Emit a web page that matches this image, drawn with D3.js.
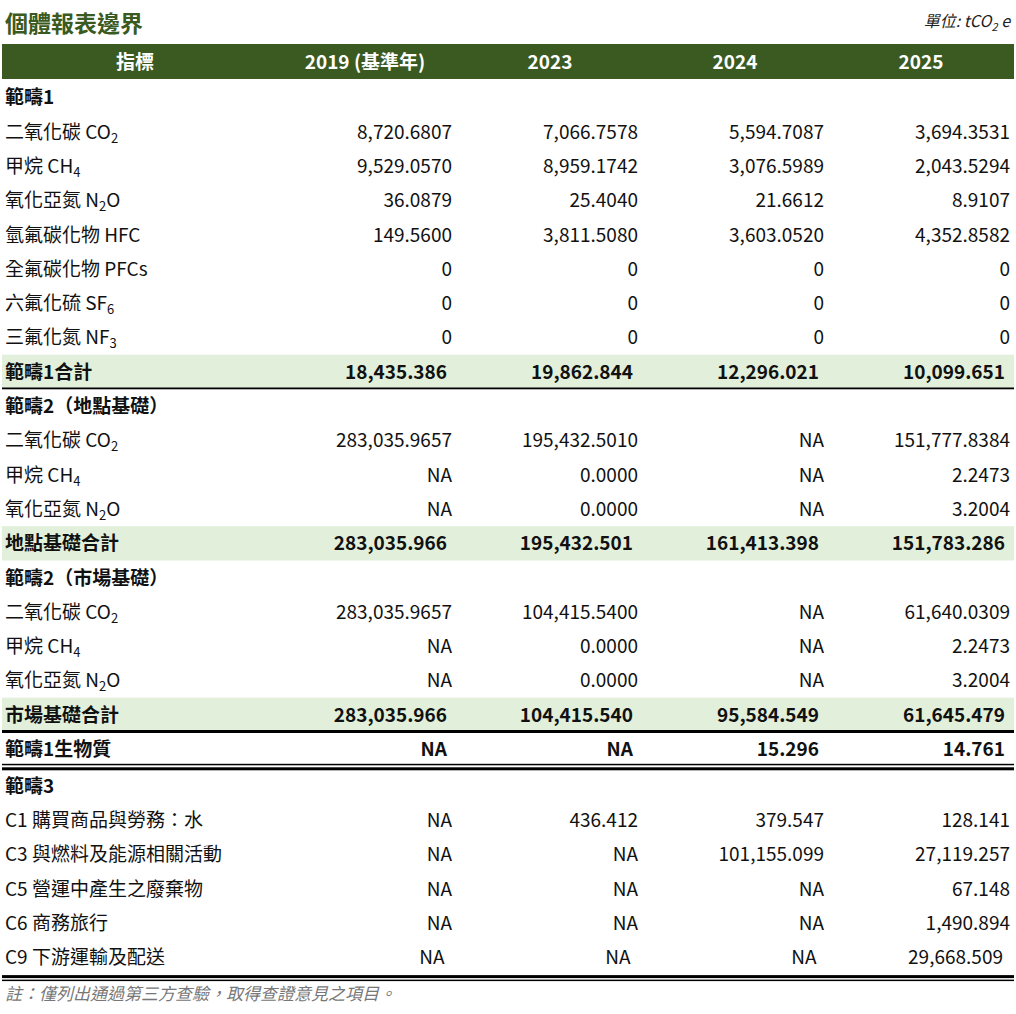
<!DOCTYPE html>
<html><head><meta charset="utf-8">
<script src="https://cdn.jsdelivr.net/npm/d3@7"></script>
<style>body{margin:0;background:#fff}text{font-family:"Noto Sans CJK TC","Noto Sans",sans-serif}</style>
</head><body><svg id="c" width="1016" height="1014"></svg>
<script>
const title = "個體報表邊界";
const columns = ["指標","2019 (基準年)","2023","2024","2025"];
const labels = [
 ["範疇1"],["二氧化碳 CO","2"],["甲烷 CH","4"],["氧化亞氮 N","2","O"],["氫氟碳化物 HFC"],["全氟碳化物 PFCs"],["六氟化硫 SF","6"],["三氟化氮 NF","3"],["範疇1合計"],
 ["範疇2（地點基礎）"],["二氧化碳 CO","2"],["甲烷 CH","4"],["氧化亞氮 N","2","O"],["地點基礎合計"],
 ["範疇2（市場基礎）"],["二氧化碳 CO","2"],["甲烷 CH","4"],["氧化亞氮 N","2","O"],["市場基礎合計"],
 ["範疇1生物質"],
 ["範疇3"],["C1 購買商品與勞務：水"],["C3 與燃料及能源相關活動"],["C5 營運中產生之廢棄物"],["C6 商務旅行"],["C9 下游運輸及配送"]
];
const rowType = ["head","d","d","d","d","d","d","d","total","head","d","d","d","total","head","d","d","d","total","bold","head","d","d","d","d","dc"];
const v2019 = ["","8,720.6807","9,529.0570","36.0879","149.5600","0","0","0","18,435.386","","283,035.9657","NA","NA","283,035.966","","283,035.9657","NA","NA","283,035.966","NA","","NA","NA","NA","NA","NA"];
const v2023 = ["","7,066.7578","8,959.1742","25.4040","3,811.5080","0","0","0","19,862.844","","195,432.5010","0.0000","0.0000","195,432.501","","104,415.5400","0.0000","0.0000","104,415.540","NA","","436.412","NA","NA","NA","NA"];
const v2024 = ["","5,594.7087","3,076.5989","21.6612","3,603.0520","0","0","0","12,296.021","","NA","NA","NA","161,413.398","","NA","NA","NA","95,584.549","15.296","","379.547","101,155.099","NA","NA","NA"];
const v2025 = ["","3,694.3531","2,043.5294","8.9107","4,352.8582","0","0","0","10,099.651","","151,777.8384","2.2473","3.2004","151,783.286","","61,640.0309","2.2473","3.2004","61,645.479","14.761","","128.141","27,119.257","67.148","1,490.894","29,668.509"];
const valueCols = [v2019,v2023,v2024,v2025];

const svg = d3.select("#c");
const green="#3a5a22";
svg.append("text").attr("x",5).attr("y",32).attr("font-size",23).attr("font-weight",700).attr("fill",green).text(title);
const u = svg.append("text").attr("x",1010).attr("y",27).attr("text-anchor","end").attr("font-size",16).attr("font-style","italic").attr("fill","#222");
u.append("tspan").text("單位: tCO");u.append("tspan").attr("font-size",11).attr("dy",4).text("2");u.append("tspan").attr("dy",-4).text(" e");

const x = d3.scaleOrdinal().domain([0,1,2,3]).range([452,638,824,1010]);
const xc = d3.scaleOrdinal().domain([0,1,2,3,4]).range([135,365,550,735,921]);
const y = d3.scaleLinear().domain([0,1]).range([80.3,114.6]);
const rowTop = i => y(i) + (i>=20?2.5:0);

svg.append("rect").attr("x",2).attr("y",44).attr("width",1012).attr("height",35).attr("fill",green);
svg.selectAll(".hd").data(columns).join("text").attr("x",(d,i)=>xc(i)).attr("y",69).attr("text-anchor","middle")
 .attr("fill","#fff").attr("font-weight",700).attr("font-size",19).text(d=>d);

const rows = svg.selectAll(".r").data(labels).join("g").attr("transform",(d,i)=>`translate(0,${rowTop(i)})`);
rows.filter((d,i)=>rowType[i]==="total").append("rect").attr("x",2).attr("y",0).attr("width",1012).attr("height",34.3).attr("fill","#e2efda");
rows.each(function(d,i){
  const g=d3.select(this), bold = rowType[i]!=="d"&&rowType[i]!=="dc";
  const t=g.append("text").attr("x",5).attr("y",24).attr("font-size",19).attr("fill","#111").attr("font-weight",bold?700:400);
  t.append("tspan").text(d[0]);
  if(d[1]){t.append("tspan").attr("font-size",13).attr("dy",4).text(d[1]);}
  if(d[2]){t.append("tspan").attr("dy",-4).text(d[2]);}
  valueCols.forEach((vc,j)=>{
    const center = rowType[i]==="dc" && j<3;
    const xx = center ? x(j)-20 : (rowType[i]==="dc" ? x(j)-7 : (bold ? x(j)-5 : x(j)));
    g.append("text").attr("x",xx).attr("y",24).attr("text-anchor",center?"middle":"end")
     .attr("font-size",19).attr("fill","#111").attr("font-weight",bold?700:400).text(vc[i]);
  });
});
const line=(yy,w)=>svg.append("rect").attr("x",2).attr("y",yy).attr("width",1012).attr("height",w).attr("fill","#000");
line(rowTop(9)-1.5,1.8);
line(rowTop(19)-2,3);
line(rowTop(20)-5,1.5);line(rowTop(20)-1.5,3);
line(rowTop(26)+0.5,3);line(rowTop(26)+5,1.5);
svg.append("text").attr("x",5).attr("y",1000).attr("font-size",17).attr("font-style","italic").attr("fill","#777").text("註：僅列出通過第三方查驗，取得查證意見之項目。");
</script></body></html>
